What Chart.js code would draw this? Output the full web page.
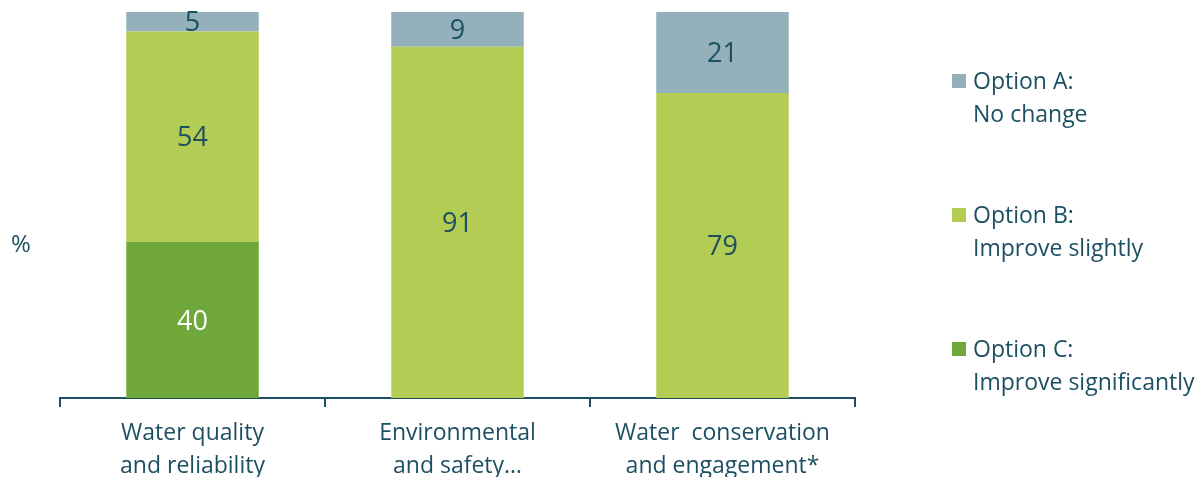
<!DOCTYPE html>
<html>
<head>
<meta charset="utf-8">
<script src="https://cdn.jsdelivr.net/npm/chart.js@4.4.1/dist/chart.umd.min.js"></script>
<style>
  html, body { margin: 0; padding: 0; background: #fff; }
  #wrap { position: relative; width: 1200px; height: 477px; overflow: hidden; font-family: "Open Sans", sans-serif; color: #1d4f63; }
  #wrap canvas { position: absolute; left: 0; top: 0; }
  .pct { position: absolute; left: 11px; top: 226px; font-size: 24px; }
  .legend { position: absolute; left: 952px; top: 64px; font-size: 23px; line-height: 33px; }
  .legend .item { position: relative; padding-left: 21px; margin-bottom: 68px; }
  .legend .box { position: absolute; left: 0; top: 10px; width: 14px; height: 14px; }
</style>
</head>
<body>
<div id="wrap">
  <canvas id="chart" width="1200" height="493"></canvas>
  <div class="pct">%</div>
  <div class="legend" id="legend"></div>
</div>
<script>
const categories = [["Water quality", "and reliability"], ["Environmental", "and safety…"], ["Water  conservation", "and engagement*"]];
const seriesNames = [["Option A:", "No change"], ["Option B:", "Improve slightly"], ["Option C:", "Improve significantly"]];
const optionA = [5, 9, 21];
const optionB = [54, 91, 79];
const optionC = [40, 0, 0];
const colors = ["#93b0bb", "#b3cc53", "#70a73b"];
const textColor = "#1d4f63";

// bars are drawn as 100% stacked, labels show the raw values
const totals = categories.map((c, i) => optionA[i] + optionB[i] + optionC[i]);
const share = arr => arr.map((v, i) => v ? v / totals[i] * 100 : null);

const legendEl = document.getElementById("legend");
seriesNames.forEach((name, i) => {
  const d = document.createElement("div");
  d.className = "item";
  d.innerHTML = '<span class="box" style="background:' + colors[i] + '"></span>' + name.join("<br>");
  legendEl.appendChild(d);
});

const valueLabels = {
  id: "valueLabels",
  afterDatasetsDraw(chart) {
    const ctx = chart.ctx;
    ctx.save();
    ctx.font = '27px "Open Sans", sans-serif';
    ctx.textAlign = "center";
    ctx.textBaseline = "middle";
    chart.data.datasets.forEach((ds, di) => {
      const meta = chart.getDatasetMeta(di);
      meta.data.forEach((bar, i) => {
        const v = ds.raw[i];
        if (!v) return;
        ctx.fillStyle = ds.labelColor;
        ctx.fillText(String(v), bar.x, (bar.y + bar.base) / 2 + 2);
      });
    });
    ctx.restore();
  }
};

new Chart(document.getElementById("chart"), {
  type: "bar",
  data: {
    labels: categories,
    datasets: [
      { label: "Option C", data: share(optionC), raw: optionC, backgroundColor: colors[2], labelColor: "#ffffff" },
      { label: "Option B", data: share(optionB), raw: optionB, backgroundColor: colors[1], labelColor: textColor },
      { label: "Option A", data: share(optionA), raw: optionA, backgroundColor: colors[0], labelColor: textColor }
    ]
  },
  options: {
    responsive: false,
    animation: false,
    layout: { padding: { left: 60, right: 345, top: 12, bottom: 0 } },
    datasets: { bar: { categoryPercentage: 1, barPercentage: 0.5, borderWidth: 0 } },
    plugins: { legend: { display: false }, tooltip: { enabled: false } },
    scales: {
      x: {
        stacked: true,
        border: { display: true, color: textColor, width: 2 },
        grid: { display: true, drawOnChartArea: false, drawTicks: true, tickLength: 9, color: textColor, lineWidth: 2, offset: true },
        ticks: { color: textColor, font: { family: "Open Sans", size: 23, lineHeight: 1.435 }, padding: 10, maxRotation: 0, autoSkip: false }
      },
      y: { stacked: true, display: false, min: 0, max: 100 }
    }
  },
  plugins: [valueLabels]
});
</script>
</body>
</html>
